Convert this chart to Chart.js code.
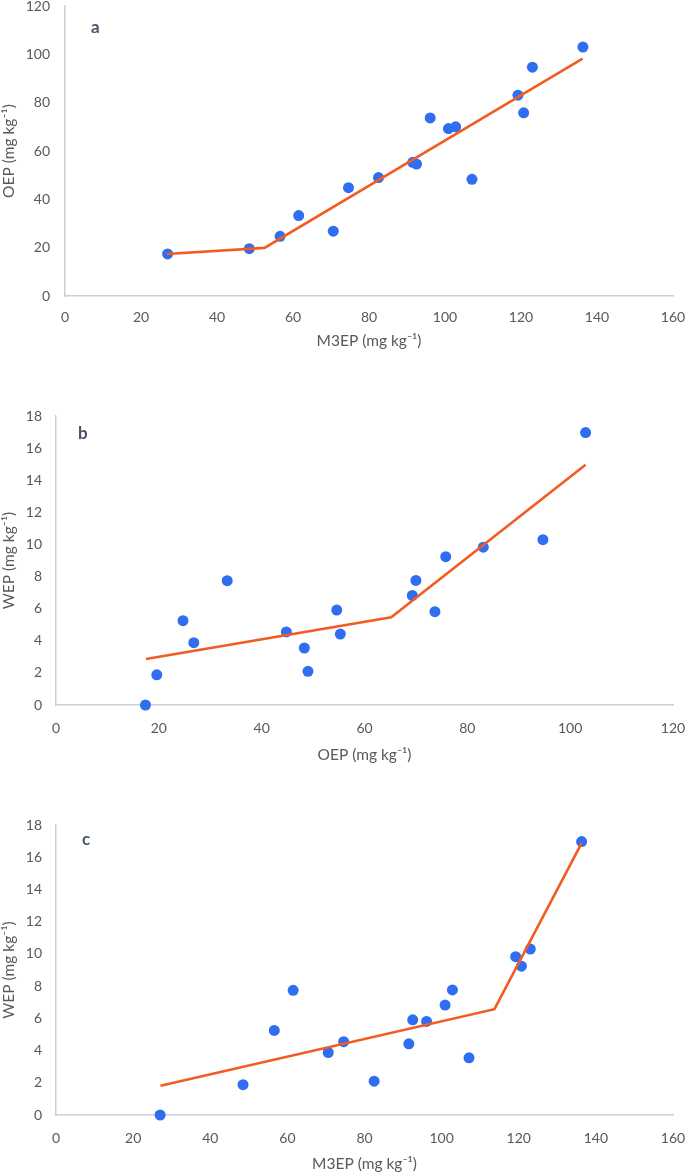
<!DOCTYPE html>
<html>
<head>
<meta charset="utf-8">
<script src="https://cdn.jsdelivr.net/npm/chart.js@4.4.1/dist/chart.umd.min.js"></script>
<style>
  html, body { margin: 0; padding: 0; background: #fff; }
  body { width: 685px; height: 1173px; position: relative; overflow: hidden; }
  .panel { position: absolute; left: 0; width: 685px; }
  .lbl { position: absolute; font-family: Lato, "Open Sans", sans-serif; font-weight: bold; font-size: 17px; color: #44546a; line-height: 1; }
</style>
</head>
<body>
<div class="panel" id="pa" style="top:0px;height:352px;"><canvas id="ca"></canvas></div>
<div class="panel" id="pb" style="top:400px;height:370px;"><canvas id="cb"></canvas></div>
<div class="panel" id="pc" style="top:810px;height:363px;"><canvas id="cc"></canvas></div>
<div class="lbl" style="left:91px;top:18px;">a</div>
<div class="lbl" style="left:78px;top:424px;">b</div>
<div class="lbl" style="left:82px;top:830px;">c</div>
<script>
// Soil samples: Mehlich-3 extractable P, Olsen extractable P, water extractable P (mg kg-1)
const m3ep = [27.0, 48.5, 56.6, 61.5, 70.6, 74.6, 82.5, 91.5, 92.5, 96.1, 100.9, 102.8, 107.1, 119.2, 120.7, 123.0, 136.3];
const oep  = [17.4, 19.6, 24.7, 33.3, 26.8, 44.8, 49.0, 55.3, 54.6, 73.7, 69.3, 70.0, 48.3, 83.1, 75.8, 94.7, 103.0];
const wep  = [0, 1.88, 5.25, 7.74, 3.88, 4.55, 2.10, 4.42, 5.91, 5.81, 6.82, 7.76, 3.55, 9.83, 9.24, 10.30, 16.97];

// Segmented (broken-line) fits
const fitA_x = [26.8, 52.5, 136.2];
const fitA_y = [17.4, 19.9, 98.2];
const fitB_x = [17.5, 65.2, 103.0];
const fitB_y = [2.86, 5.47, 14.97];
const fitC_x = [27.1, 113.7, 136.3];
const fitC_y = [1.82, 6.57, 16.88];

// Axis ranges / ticks
const axisA = { xMax: 160, xStep: 20, yMax: 120, yStep: 20, xTitle: 'M3EP (mg kg\u207B\u00B9)', yTitle: 'OEP (mg kg\u207B\u00B9)' };
const axisB = { xMax: 120, xStep: 20, yMax: 18, yStep: 2, xTitle: 'OEP (mg kg\u207B\u00B9)', yTitle: 'WEP (mg kg\u207B\u00B9)' };
const axisC = { xMax: 160, xStep: 20, yMax: 18, yStep: 2, xTitle: 'M3EP (mg kg\u207B\u00B9)', yTitle: 'WEP (mg kg\u207B\u00B9)' };

const FONT = 'Lato, "Open Sans", "DejaVu Sans", sans-serif';
const TXT = '#595959';
const AXIS = '#cfcfcf';
const BLUE = '#2f6ef0';
const ORANGE = '#f25c22';

function pairs(xs, ys) { return xs.map((x, i) => ({ x: x, y: ys[i] })); }

function makeChart(id, xs, ys, fx, fy, ax, lay) {
  return new Chart(document.getElementById(id), {
    type: 'scatter',
    data: {
      datasets: [
        { type: 'line', data: pairs(fx, fy), borderColor: ORANGE, borderWidth: 2.6, pointRadius: 0, fill: false, tension: 0, clip: false },
        { data: pairs(xs, ys), backgroundColor: BLUE, borderColor: BLUE, pointRadius: 5.5, pointHoverRadius: 5.5, borderWidth: 0, clip: false }
      ]
    },
    options: {
      responsive: true,
      maintainAspectRatio: false,
      animation: false,
      events: [],
      layout: { padding: { top: lay.top, right: lay.right, left: 0, bottom: 0 } },
      plugins: { legend: { display: false }, tooltip: { enabled: false } },
      scales: {
        x: {
          type: 'linear', min: 0, max: ax.xMax,
          afterFit: s => { s.height = lay.xh; s.paddingLeft = 0; s.paddingRight = 0; },
          grid: { display: false, drawTicks: false },
          border: { display: true, color: AXIS, width: 1.5 },
          ticks: { stepSize: ax.xStep, padding: lay.xpad, color: TXT, font: { family: FONT, size: 14 }, maxRotation: 0 },
          title: { display: true, text: ax.xTitle, color: TXT, font: { family: FONT, size: 15.5 }, padding: { top: 0, bottom: lay.xtpad } }
        },
        y: {
          type: 'linear', min: 0, max: ax.yMax,
          afterFit: s => { s.width = lay.yw; s.paddingTop = 0; s.paddingBottom = 0; },
          grid: { display: false, drawTicks: false },
          border: { display: true, color: AXIS, width: 1.5 },
          ticks: { stepSize: ax.yStep, padding: lay.ypad, color: TXT, font: { family: FONT, size: 14 } },
          title: { display: true, text: ax.yTitle, color: TXT, font: { family: FONT, size: 15.5 }, padding: { top: 0, bottom: 0 } }
        }
      }
    }
  });
}

makeChart('ca', m3ep, oep, fitA_x, fitA_y, axisA, { top: 6, right: 12, xh: 56, xpad: 13, xtpad: 2, yw: 65, ypad: 15 });
makeChart('cb', oep, wep, fitB_x, fitB_y, axisB, { top: 16, right: 12, xh: 65, xpad: 15, xtpad: 6, yw: 56, ypad: 14 });
makeChart('cc', m3ep, wep, fitC_x, fitC_y, axisC, { top: 15, right: 12, xh: 58, xpad: 15, xtpad: 0, yw: 56, ypad: 14 });
</script>
</body>
</html>
